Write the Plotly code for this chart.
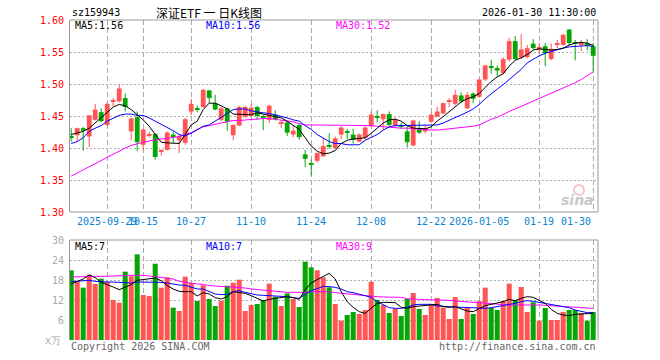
import pandas as pd
import plotly.graph_objects as go

# ---------------- data ----------------
holidays = ["2025-10-01", "2025-10-02", "2025-10-03", "2025-10-06", "2025-10-07",
            "2025-10-08", "2026-01-01", "2026-01-02"]
dates = [d.strftime("%Y-%m-%d") for d in pd.bdate_range("2025-09-19", "2026-01-30")
         if d.strftime("%Y-%m-%d") not in holidays]

opens = [1.419, 1.420, 1.431, 1.418, 1.444, 1.456, 1.436, 1.472, 1.473, 1.478,
         1.426, 1.448, 1.405, 1.420, 1.422, 1.394, 1.397, 1.421, 1.412, 1.408,
         1.457, 1.462, 1.464, 1.490, 1.470, 1.444, 1.462, 1.420, 1.435, 1.449,
         1.450, 1.464, 1.449, 1.444, 1.452, 1.438, 1.440, 1.421, 1.436, 1.390,
         1.376, 1.380, 1.387, 1.404, 1.400, 1.421, 1.426, 1.421, 1.410, 1.416,
         1.434, 1.450, 1.445, 1.453, 1.435, 1.436, 1.426, 1.404, 1.429, 1.426,
         1.441, 1.449, 1.454, 1.472, 1.469, 1.482, 1.462, 1.485, 1.480, 1.507,
         1.527, 1.525, 1.517, 1.538, 1.567, 1.541, 1.542, 1.563, 1.553, 1.559,
         1.539, 1.561, 1.561, 1.585, 1.565, 1.562, 1.564, 1.559]
highs = [1.431, 1.432, 1.433, 1.451, 1.469, 1.462, 1.471, 1.478, 1.500, 1.485,
         1.447, 1.457, 1.430, 1.425, 1.423, 1.398, 1.426, 1.426, 1.420, 1.447,
         1.477, 1.466, 1.492, 1.491, 1.483, 1.464, 1.463, 1.437, 1.466, 1.466,
         1.469, 1.466, 1.452, 1.468, 1.459, 1.444, 1.442, 1.435, 1.438, 1.397,
         1.382, 1.393, 1.416, 1.423, 1.418, 1.434, 1.430, 1.430, 1.423, 1.434,
         1.457, 1.459, 1.454, 1.457, 1.448, 1.440, 1.434, 1.444, 1.442, 1.436,
         1.455, 1.464, 1.471, 1.478, 1.491, 1.487, 1.487, 1.487, 1.508, 1.530,
         1.538, 1.529, 1.542, 1.572, 1.575, 1.578, 1.561, 1.570, 1.564, 1.564,
         1.563, 1.569, 1.578, 1.586, 1.569, 1.569, 1.570, 1.564]
lows = [1.410, 1.410, 1.396, 1.401, 1.443, 1.440, 1.434, 1.465, 1.471, 1.457,
        1.412, 1.395, 1.397, 1.416, 1.382, 1.388, 1.396, 1.408, 1.392, 1.405,
        1.451, 1.456, 1.463, 1.470, 1.459, 1.442, 1.427, 1.412, 1.434, 1.447,
        1.448, 1.444, 1.428, 1.439, 1.443, 1.431, 1.419, 1.417, 1.413, 1.370,
        1.357, 1.377, 1.386, 1.399, 1.398, 1.414, 1.414, 1.407, 1.409, 1.413,
        1.433, 1.440, 1.428, 1.434, 1.431, 1.430, 1.401, 1.403, 1.422, 1.423,
        1.439, 1.448, 1.453, 1.464, 1.467, 1.470, 1.461, 1.470, 1.478, 1.505,
        1.516, 1.512, 1.515, 1.535, 1.538, 1.539, 1.540, 1.554, 1.548, 1.528,
        1.537, 1.556, 1.560, 1.560, 1.537, 1.551, 1.553, 1.520]
closes = [1.417, 1.431, 1.427, 1.451, 1.460, 1.442, 1.469, 1.474, 1.493, 1.464,
          1.446, 1.409, 1.429, 1.422, 1.386, 1.396, 1.424, 1.418, 1.419, 1.445,
          1.469, 1.460, 1.491, 1.478, 1.460, 1.462, 1.441, 1.436, 1.464, 1.464,
          1.463, 1.450, 1.447, 1.466, 1.445, 1.440, 1.424, 1.427, 1.417, 1.383,
          1.374, 1.392, 1.403, 1.402, 1.415, 1.432, 1.424, 1.413, 1.421, 1.432,
          1.452, 1.448, 1.453, 1.436, 1.444, 1.434, 1.409, 1.443, 1.424, 1.431,
          1.452, 1.457, 1.470, 1.474, 1.483, 1.473, 1.483, 1.477, 1.507, 1.529,
          1.525, 1.521, 1.539, 1.567, 1.539, 1.554, 1.556, 1.556, 1.558, 1.548,
          1.555, 1.563, 1.577, 1.564, 1.563, 1.564, 1.560, 1.544]

ma5 = [1.421, 1.423, 1.426, 1.431, 1.439, 1.447, 1.455, 1.464, 1.468, 1.466,
       1.460, 1.452, 1.444, 1.434, 1.421, 1.409, 1.408, 1.408, 1.407, 1.421,
       1.436, 1.442, 1.460, 1.470, 1.470, 1.466, 1.461, 1.453, 1.453, 1.453,
       1.452, 1.455, 1.453, 1.452, 1.449, 1.447, 1.442, 1.435, 1.429, 1.416,
       1.403, 1.395, 1.391, 1.392, 1.396, 1.407, 1.412, 1.414, 1.415, 1.416,
       1.423, 1.431, 1.439, 1.444, 1.445, 1.442, 1.435, 1.431, 1.430, 1.430,
       1.433, 1.442, 1.449, 1.457, 1.465, 1.472, 1.477, 1.480, 1.485, 1.494,
       1.504, 1.511, 1.516, 1.528, 1.537, 1.541, 1.546, 1.553, 1.555, 1.554,
       1.553, 1.554, 1.556, 1.561, 1.564, 1.565, 1.564, 1.560]
ma10 = [1.407, 1.410, 1.416, 1.426, 1.431, 1.435, 1.442, 1.447, 1.451, 1.453,
        1.453, 1.451, 1.451, 1.447, 1.442, 1.438, 1.433, 1.427, 1.421, 1.419,
        1.423, 1.429, 1.434, 1.436, 1.442, 1.449, 1.455, 1.460, 1.461, 1.461,
        1.458, 1.456, 1.455, 1.454, 1.452, 1.449, 1.447, 1.444, 1.442, 1.435,
        1.429, 1.421, 1.416, 1.410, 1.407, 1.407, 1.405, 1.405, 1.405, 1.412,
        1.416, 1.421, 1.428, 1.433, 1.435, 1.435, 1.435, 1.435, 1.435, 1.435,
        1.435, 1.436, 1.439, 1.443, 1.448, 1.451, 1.456, 1.461, 1.468, 1.477,
        1.485, 1.492, 1.499, 1.507, 1.515, 1.523, 1.533, 1.539, 1.544, 1.548,
        1.551, 1.553, 1.556, 1.558, 1.559, 1.560, 1.560, 1.559]
ma30 = [1.356, 1.361, 1.366, 1.371, 1.376, 1.380, 1.385, 1.390, 1.395, 1.400,
        1.404, 1.407, 1.409, 1.411, 1.413, 1.414, 1.415, 1.416, 1.418, 1.421,
        1.424, 1.429, 1.433, 1.435, 1.437, 1.440, 1.442, 1.443, 1.443, 1.444,
        1.445, 1.446, 1.446, 1.446, 1.445, 1.444, 1.443, 1.441, 1.438, 1.436,
        1.436, 1.436, 1.436, 1.436, 1.436, 1.436, 1.436, 1.436, 1.436, 1.435,
        1.435, 1.434, 1.433, 1.432, 1.432, 1.431, 1.431, 1.430, 1.430, 1.429,
        1.428, 1.428, 1.429, 1.430, 1.430, 1.431, 1.432, 1.434, 1.436, 1.441,
        1.445, 1.448, 1.453, 1.457, 1.461, 1.465, 1.470, 1.474, 1.478, 1.482,
        1.486, 1.490, 1.493, 1.497, 1.502, 1.507, 1.513, 1.519]

volumes = [20.9, 17.6, 15.7, 19.6, 16.8, 18.4, 17.4, 12.0, 11.2, 20.5,
           19.1, 25.7, 13.5, 13.2, 22.9, 15.7, 18.8, 9.7, 8.7, 19.0,
           17.1, 11.7, 16.4, 12.3, 10.2, 11.8, 16.3, 17.2, 18.1, 8.7,
           10.5, 10.8, 12.0, 16.9, 13.0, 10.2, 14.0, 12.3, 9.9, 23.5,
           21.8, 20.9, 18.8, 15.8, 10.8, 5.8, 7.5, 8.4, 7.8, 9.0,
           17.5, 12.0, 10.5, 8.1, 9.4, 7.2, 12.3, 14.1, 9.3, 7.5,
           10.8, 12.6, 9.7, 6.3, 12.9, 6.3, 9.9, 7.8, 11.7, 15.7,
           9.6, 9.0, 11.7, 16.9, 12.0, 15.9, 8.4, 11.3, 5.8, 9.6,
           6.0, 6.0, 8.4, 9.0, 9.0, 8.1, 5.8, 8.4]
vol_ma5 = [16.8, 17.5, 18.3, 19.5, 18.7, 17.3, 16.7, 15.9, 15.1, 15.9,
           16.6, 17.9, 18.2, 18.4, 18.6, 17.8, 16.3, 15.3, 14.6, 14.5,
           14.5, 13.2, 14.2, 13.8, 12.7, 12.3, 13.0, 14.5, 14.3, 14.0,
           13.3, 12.4, 11.7, 12.2, 12.5, 12.8, 13.0, 12.7, 12.2, 15.1,
           17.1, 18.1, 19.1, 20.0, 18.3, 14.5, 11.5, 9.8, 8.5, 8.0,
           9.5, 11.0, 11.3, 11.2, 11.2, 9.8, 9.5, 10.0, 10.2, 10.3,
           10.5, 10.7, 10.0, 9.8, 10.0, 9.3, 8.7, 8.5, 9.5, 10.3,
           10.7, 11.0, 11.5, 12.2, 11.8, 12.5, 13.0, 12.8, 11.8, 11.0,
           9.2, 8.0, 7.5, 7.3, 7.7, 7.8, 7.9, 8.0]
vol_ma10 = [17.5, 17.6, 17.8, 17.9, 17.6, 17.4, 17.4, 17.4, 17.3, 17.0,
            17.1, 17.4, 17.4, 17.4, 17.4, 17.3, 17.1, 16.7, 16.5, 16.4,
            15.9, 15.3, 15.3, 14.5, 13.8, 13.6, 13.7, 14.5, 14.8, 14.3,
            13.8, 13.5, 13.4, 13.3, 13.3, 13.2, 13.0, 12.7, 12.5, 13.7,
            14.8, 15.4, 16.1, 16.0, 15.8, 15.3, 14.5, 14.2, 13.8, 13.4,
            12.8, 11.5, 10.5, 9.7, 9.5, 9.5, 9.8, 10.5, 10.7, 10.8,
            10.7, 10.2, 10.0, 10.0, 9.9, 9.8, 9.7, 9.5, 9.4, 9.5,
            9.7, 10.0, 10.4, 10.7, 11.0, 11.5, 11.8, 11.6, 11.3, 11.0,
            10.7, 10.4, 10.0, 9.7, 9.0, 8.5, 8.2, 8.2]
vol_ma30 = [18.9, 19.0, 19.0, 19.1, 19.1, 19.1, 19.1, 19.1, 19.2, 19.3,
            19.4, 19.5, 19.4, 19.2, 19.0, 18.8, 18.6, 18.3, 17.6, 17.3,
            17.0, 16.8, 16.7, 16.3, 16.2, 16.1, 15.9, 15.8, 15.7, 15.6,
            15.3, 15.1, 15.0, 14.8, 14.6, 14.4, 14.3, 14.3, 14.2, 14.3,
            14.5, 14.5, 14.5, 14.5, 14.2, 14.0, 13.8, 13.7, 13.6, 13.3,
            13.0, 13.0, 12.9, 12.9, 12.8, 12.8, 12.4, 12.2, 12.2, 12.1,
            12.1, 12.0, 12.0, 11.9, 11.7, 11.5, 11.4, 11.3, 11.2, 11.0,
            10.8, 10.7, 10.6, 10.5, 10.5, 10.6, 10.7, 10.6, 10.5, 10.4,
            10.3, 10.2, 10.2, 10.1, 10.0, 9.9, 9.7, 9.5]

tick_dates = ["2025-09-29", "2025-10-15", "2025-10-27", "2025-11-10", "2025-11-24",
              "2025-12-08", "2025-12-22", "2026-01-05", "2026-01-19", "2026-01-30"]
tick_labels = ["2025-09-29", "10-15", "10-27", "11-10", "11-24",
               "12-08", "12-22", "2026-01-05", "01-19", "01-30"]
price_ticks = [1.30, 1.35, 1.40, 1.45, 1.50, 1.55, 1.60]
vol_ticks = [6, 12, 18, 24, 30]
price_ma_labels = ["MA5:1.56", "MA10:1.56", "MA30:1.52"]
vol_ma_labels = ["MA5:7", "MA10:7", "MA30:9"]

# ---------------- styling ----------------
RED = "#ff5555"
GREEN = "#05a505"
MONO = "DejaVu Sans Mono"
W, H = 660, 360
L, R, T, B = 70, 62, 20, 20
PW, PH = W - L - R, H - T - B


def px(p):
    return (p - L) / PW


def py(p):
    return (H - B - p) / PH


n = len(dates)
idx = list(range(n))
up = [c >= o for o, c in zip(opens, closes)]
tick_idx = [dates.index(d) for d in tick_dates]

fig = go.Figure()

# wicks
for flag, col in ((True, RED), (False, GREEN)):
    wx, wy = [], []
    for i in idx:
        if up[i] == flag:
            wx += [i, i, None]
            wy += [lows[i], highs[i], None]
    fig.add_trace(go.Scatter(x=wx, y=wy, mode="lines", line=dict(color=col, width=1),
                             hoverinfo="skip", xaxis="x", yaxis="y"))

# bodies
for flag, col in ((True, RED), (False, GREEN)):
    bx = [i for i in idx if up[i] == flag]
    base = [min(opens[i], closes[i]) for i in bx]
    hgt = [max(abs(closes[i] - opens[i]), 0.0014) for i in bx]
    fig.add_trace(go.Bar(x=bx, y=hgt, base=base, width=0.8, marker=dict(color=col, line=dict(width=0)),
                         xaxis="x", yaxis="y"))

# price MAs
for arr, col in ((ma30, "#ff00ff"), (ma10, "#0000ff"), (ma5, "#000000")):
    fig.add_trace(go.Scatter(x=idx, y=arr, mode="lines", line=dict(color=col, width=1),
                             xaxis="x", yaxis="y"))

# volume bars
fig.add_trace(go.Bar(x=idx, y=volumes, width=0.84,
                     marker=dict(color=[RED if u else GREEN for u in up], line=dict(width=0)),
                     xaxis="x2", yaxis="y2"))
for arr, col in ((vol_ma30, "#ff00ff"), (vol_ma10, "#0000ff"), (vol_ma5, "#000000")):
    fig.add_trace(go.Scatter(x=idx, y=arr, mode="lines", line=dict(color=col, width=1),
                             xaxis="x2", yaxis="y2"))

main_dom = [py(212), 1]
vol_dom = [0, py(240)]
xr = [-0.2, n - 0.2]
grid_x = dict(range=xr, tickvals=tick_idx, showticklabels=False, showgrid=True,
              gridcolor="#aaaaaa", gridwidth=1, griddash="5px,3px", zeroline=False,
              showline=False, ticks="", fixedrange=True)
fig.update_layout(
    width=W, height=H, margin=dict(l=L, r=R, t=T, b=B),
    plot_bgcolor="white", paper_bgcolor="white", showlegend=False,
    barmode="overlay",
    xaxis=dict(domain=[0, 1], anchor="y", **grid_x),
    xaxis2=dict(domain=[0, 1], anchor="y2", **grid_x),
    yaxis=dict(domain=main_dom, range=[1.30, 1.60], tickvals=price_ticks,
               ticktext=[f"{v:.2f}" for v in price_ticks],
               tickfont=dict(family=MONO, size=10, color="#ff0000"),
               showgrid=True, gridcolor="#b0b0b0", griddash="2px,2px", zeroline=False,
               showline=True, linecolor="#999999", linewidth=1, ticks="outside",
               ticklen=3, tickcolor="white", fixedrange=True),
    yaxis2=dict(domain=vol_dom, range=[0, 30], tickvals=vol_ticks,
                ticktext=[str(v) for v in vol_ticks],
                tickfont=dict(family=MONO, size=10, color="#aaaaaa"),
                showgrid=True, gridcolor="#b0b0b0", griddash="2px,2px", zeroline=False,
                showline=True, linecolor="#999999", linewidth=1, ticks="outside",
                ticklen=3, tickcolor="white", fixedrange=True),
)

# borders
line_style = dict(color="#999999", width=1)
for y0, y1 in ((main_dom[0], main_dom[1]), (vol_dom[0], vol_dom[1])):
    fig.add_shape(type="line", xref="paper", yref="paper", x0=0, x1=1, y0=y1, y1=y1, line=line_style)
    fig.add_shape(type="line", xref="paper", yref="paper", x0=1, x1=1, y0=y0, y1=y1, line=line_style)
fig.add_shape(type="line", xref="paper", yref="paper", x0=0, x1=1, y0=main_dom[0], y1=main_dom[0],
              line=line_style)

# sina watermark eye
fig.add_shape(type="circle", xref="paper", yref="paper", x0=px(574), x1=px(584), y0=py(195), y1=py(185),
              line=dict(color="#f4c4c4", width=2), fillcolor="rgba(0,0,0,0)")


def note(text, x, y, color="#000000", size=10, xanchor="left", family=MONO, **kw):
    fig.add_annotation(text=text, x=px(x), y=py(y), xref="paper", yref="paper",
                       xanchor=xanchor, yanchor="middle", showarrow=False,
                       font=dict(family=family, size=size, color=color), **kw)


note("sz159943", 70, 13)
note("深证ETF 一 日K线图", 209, 12, size=12, xanchor="center", family="Noto Sans CJK SC")
note("2026-01-30 11:30:00", 598, 12.5, xanchor="right")
for lab, xx, col in zip(price_ma_labels, (73, 204, 334), ("#000000", "#0000ff", "#ff00ff")):
    note(lab, xx, 25.5, color=col)
for lab, xx, col in zip(vol_ma_labels, (73, 204, 334), ("#000000", "#0000ff", "#ff00ff")):
    note(lab, xx, 246, color=col)
note("x万", 63, 340, color="#aaaaaa", xanchor="right")
note("Copyright 2026 SINA.COM", 69, 346, color="#666666")
note("http://finance.sina.com.cn", 598, 346, color="#666666", xanchor="right")
note("<i><b>sina</b></i>", 596, 200, color="#c8c8c8", size=14, xanchor="right", family="DejaVu Sans")

for k, (ti, lab) in enumerate(zip(tick_idx, tick_labels)):
    last = k == len(tick_idx) - 1
    fig.add_annotation(text=lab, x=ti, xref="x", y=py(221.5), yref="paper",
                       xanchor="right" if last else "center", yanchor="middle",
                       xshift=0, showarrow=False,
                       font=dict(family=MONO, size=10, color="#0a84d0"))

fig.write_html("out.html", config={"displayModeBar": False},
               post_script="document.body.style.margin='0';")
